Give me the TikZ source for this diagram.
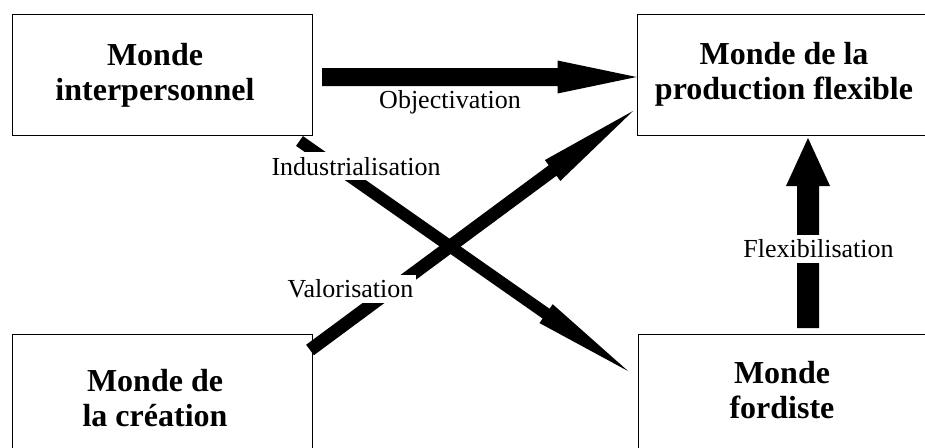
\documentclass[tikz,border=0pt]{standalone}
\usepackage{fontspec}
\setmainfont{Liberation Serif}
\usetikzlibrary{calc}

% Block arrow from #1 (tail) to #2 (tip):
% #3 half shaft width, #4 head length, #5 half head width
\newcommand\fatarrow[5]{%
  \path ($(#2)!#4!(#1)$) coordinate (fat-base);
  \fill ($(#1)!#3!90:(#2)$)
     -- ($(fat-base)!#3!-90:(#1)$)
     -- ($(fat-base)!#5!-90:(#1)$)
     -- (#2)
     -- ($(fat-base)!#5!90:(#1)$)
     -- ($(fat-base)!#3!90:(#1)$)
     -- ($(#1)!#3!-90:(#2)$) -- cycle;
}

\tikzset{
  world/.style={draw=black, line width=1pt, minimum width=300pt,
    minimum height=121pt, inner sep=0pt},
  title/.style={font=\fontsize{32}{35}\selectfont\bfseries, align=center,
    inner sep=0pt},
  flow/.style={font=\fontsize{26}{30}\selectfont, inner xsep=3pt,
    inner ysep=5pt, anchor=base},
  masked/.style={fill=white}
}

\begin{document}
\begin{tikzpicture}[x=1pt, y=-1pt]
  \clip (0,0) rectangle (925,447);

  % the four worlds
  \node[world] (interp) at (162,74.5) {};
  \node[world] (flexible) at (787,74.5) {};
  \node[world] (creation) at (162,394.5) {};
  \node[world] (fordist) at (788,394.5) {};

  \node[title] (interp-name) at (155,75) {Monde\\interpersonnel};
  \node[title] (flexible-name) at (784,74) {Monde de la\\production flexible};
  \node[title] (creation-name) at (155,398.5) {Monde de\\la création};
  \node[title] (fordist-name) at (782,390.5) {Monde\\fordiste};

  % arrow ends
  \coordinate (obj-tail) at (322,77);
  \coordinate (obj-tip) at (flexible.west |- obj-tail);
  \coordinate (ind-tail) at (299.5,141);
  \coordinate (ind-tip) at (628,371);
  \coordinate (val-tail) at (310,350);
  \coordinate (val-tip) at (633,111);
  \coordinate (flex-tail) at (808,328);
  \coordinate (flex-tip) at (808,138);

  % transitions between worlds
  \fatarrow{obj-tail}{obj-tip}{9pt}{79pt}{16.5pt}
  \fatarrow{ind-tail}{ind-tip}{6pt}{100pt}{11.5pt}
  \fatarrow{val-tail}{val-tip}{6.5pt}{100pt}{13pt}
  \fatarrow{flex-tail}{flex-tip}{11pt}{48pt}{22pt}

  % transition names
  \node[flow] (obj-label) at (450,108) {Objectivation};
  \node[flow, masked] (ind-label) at (356,175) {Industrialisation};
  \node[flow, masked] (val-label) at (350.5,297.7) {Valorisation};
  \node[flow, masked] (flex-label) at (818.5,257.7) {Flexibilisation};
\end{tikzpicture}
\end{document}
